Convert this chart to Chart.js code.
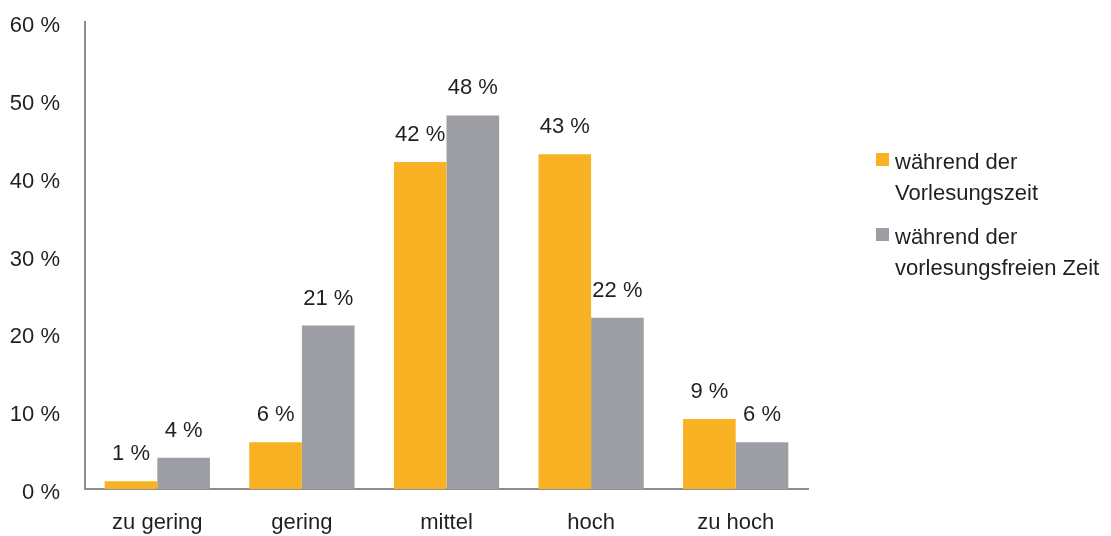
<!DOCTYPE html>
<html lang="de">
<head>
<meta charset="utf-8">
<title>Belastung während und außerhalb der Vorlesungszeit</title>
<script src="https://cdn.jsdelivr.net/npm/chart.js@4/dist/chart.umd.min.js"></script>
<style>
  html, body { margin: 0; padding: 0; background: #ffffff; }
  #wrap { position: relative; width: 1111px; height: 536px; }
</style>
</head>
<body>
<div id="wrap"><canvas id="chart" width="1111" height="536"></canvas></div>
<script>
// Antwortkategorien auf der x-Achse
const categories = ['zu gering', 'gering', 'mittel', 'hoch', 'zu hoch'];
// Anteile in Prozent
const lectureValues = [1, 6, 42, 43, 9];
const breakValues = [4, 21, 48, 22, 6];
// Legendentexte (zweizeilig)
const lectureLabel = ['während der', 'Vorlesungszeit'];
const breakLabel = ['während der', 'vorlesungsfreien Zeit'];
// Achsenwerte
const yTicks = [0, 10, 20, 30, 40, 50, 60];

const FONT = '"Liberation Sans", Arial, sans-serif';
const FONT_SIZE = 22;
const TEXT = '#231f20';
const ORANGE = '#f9b223';
const GREY = '#9c9ea3';
const AXIS = '#8d8d8d';

// Wertebeschriftung über jedem Balken
const valueLabels = {
  id: 'valueLabels',
  afterDatasetsDraw(chart) {
    const ctx = chart.ctx;
    ctx.save();
    ctx.font = FONT_SIZE + 'px ' + FONT;
    ctx.fillStyle = TEXT;
    ctx.textAlign = 'center';
    ctx.textBaseline = 'middle';
    chart.data.datasets.forEach((ds, i) => {
      chart.getDatasetMeta(i).data.forEach((bar, j) => {
        ctx.fillText(ds.data[j] + ' %', bar.x, bar.y - 27);
      });
    });
    ctx.restore();
  }
};

// Legende rechts neben dem Diagramm mit mehrzeiligen Einträgen
const sideLegend = {
  id: 'sideLegend',
  afterDraw(chart) {
    const ctx = chart.ctx;
    ctx.save();
    ctx.font = FONT_SIZE + 'px ' + FONT;
    ctx.textAlign = 'left';
    ctx.textBaseline = 'middle';
    const x = 876;
    let y = 163;
    chart.data.datasets.forEach(ds => {
      ctx.fillStyle = ds.backgroundColor;
      ctx.fillRect(x, y - 10, 13, 13);
      ctx.fillStyle = TEXT;
      ds.legendLines.forEach((line, k) => {
        ctx.fillText(line, x + 19, y + k * 31);
      });
      y += 75;
    });
    ctx.restore();
  }
};

new Chart(document.getElementById('chart'), {
  type: 'bar',
  data: {
    labels: categories,
    datasets: [
      { label: lectureLabel.join(' '), legendLines: lectureLabel, data: lectureValues,
        backgroundColor: ORANGE, borderWidth: 0 },
      { label: breakLabel.join(' '), legendLines: breakLabel, data: breakValues,
        backgroundColor: GREY, borderWidth: 0 }
    ]
  },
  options: {
    responsive: false,
    animation: false,
    devicePixelRatio: 1,
    layout: { padding: { top: 22, right: 303, left: 0, bottom: 0 } },
    datasets: { bar: { categoryPercentage: 0.728, barPercentage: 1.0 } },
    plugins: {
      legend: { display: false },
      tooltip: { enabled: false }
    },
    scales: {
      x: {
        grid: { display: false, drawTicks: false },
        border: { display: true, color: AXIS, width: 2 },
        ticks: { color: TEXT, font: { family: FONT, size: FONT_SIZE }, padding: 21, maxRotation: 0 },
        afterFit(scale) {
          scale.height = 47;
          scale.paddingLeft = 0;
          scale.paddingRight = 0;
        }
      },
      y: {
        min: 0,
        max: 60,
        afterBuildTicks(scale) { scale.ticks = yTicks.map(v => ({ value: v })); },
        grid: { display: false, drawTicks: false },
        border: { display: true, color: AXIS, width: 2 },
        ticks: {
          color: TEXT,
          font: { family: FONT, size: FONT_SIZE },
          padding: 25,
          labelOffset: 4,
          callback: v => v + ' %'
        },
        afterFit(scale) {
          scale.width = 85;
          scale.paddingTop = 0;
          scale.paddingBottom = 0;
        }
      }
    }
  },
  plugins: [valueLabels, sideLegend]
});
</script>
</body>
</html>
